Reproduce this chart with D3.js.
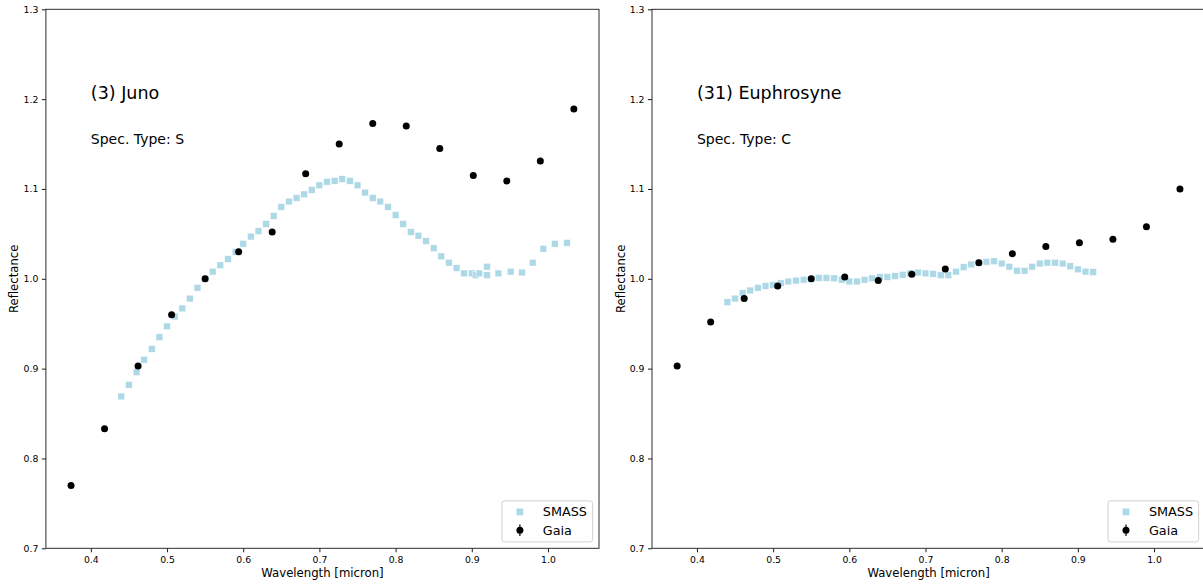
<!DOCTYPE html>
<html>
<head>
<meta charset="utf-8">
<script src="https://cdn.jsdelivr.net/npm/d3@7"></script>
<style>
  body { margin: 0; background: #fff; }
  svg { font-family: "DejaVu Sans", sans-serif; }
</style>
</head>
<body>
<div id="chart"></div>
<script>
// Gaia DR3 sampling wavelengths (micron)
var gaiaWave = [0.374, 0.418, 0.462, 0.506, 0.550, 0.594, 0.638, 0.682, 0.726, 0.770, 0.814, 0.858, 0.902, 0.946, 0.990, 1.034];
var junoGaia = [0.770, 0.833, 0.903, 0.960, 1.000, 1.030, 1.052, 1.117, 1.150, 1.173, 1.170, 1.145, 1.115, 1.109, 1.131, 1.189];
var euphGaia = [0.903, 0.952, 0.978, 0.992, 1.000, 1.002, 0.998, 1.005, 1.011, 1.018, 1.028, 1.036, 1.040, 1.044, 1.058, 1.100];

var junoSmassWave = [0.44, 0.45, 0.46, 0.47, 0.48, 0.49, 0.50, 0.51, 0.52, 0.53, 0.54, 0.55, 0.56, 0.57, 0.58, 0.59,
  0.60, 0.61, 0.62, 0.63, 0.64, 0.65, 0.66, 0.67, 0.68, 0.69, 0.70, 0.71, 0.72, 0.73, 0.74, 0.75, 0.76, 0.77, 0.78, 0.79,
  0.80, 0.81, 0.82, 0.83, 0.84, 0.85, 0.86, 0.87, 0.88, 0.89, 0.900, 0.905, 0.910, 0.920, 0.920, 0.935, 0.951, 0.966,
  0.980, 0.994, 1.009, 1.025];
var junoSmass = [0.869, 0.882, 0.896, 0.910, 0.922, 0.935, 0.947, 0.958, 0.967, 0.978, 0.990, 1.000, 1.008, 1.015, 1.022, 1.030,
  1.039, 1.047, 1.053, 1.061, 1.070, 1.080, 1.086, 1.090, 1.094, 1.099, 1.104, 1.108, 1.109, 1.111, 1.109, 1.104, 1.096, 1.090, 1.086, 1.080,
  1.071, 1.061, 1.052, 1.048, 1.042, 1.034, 1.025, 1.018, 1.012, 1.006, 1.006, 1.004, 1.006, 1.0135, 1.004, 1.006, 1.008, 1.007,
  1.018, 1.0335, 1.039, 1.040];

var euphSmassWave = [0.44, 0.45, 0.46, 0.47, 0.48, 0.49, 0.50, 0.51, 0.52, 0.53, 0.54, 0.55, 0.56, 0.57, 0.58, 0.59,
  0.60, 0.61, 0.62, 0.63, 0.64, 0.65, 0.66, 0.67, 0.68, 0.69, 0.70, 0.71, 0.72, 0.73, 0.74, 0.75, 0.76, 0.77, 0.78, 0.79,
  0.80, 0.81, 0.82, 0.83, 0.84, 0.85, 0.86, 0.87, 0.88, 0.89, 0.90, 0.91, 0.92];
var euphSmass = [0.974, 0.978, 0.984, 0.987, 0.990, 0.992, 0.993, 0.995, 0.997, 0.998, 0.999, 1.000, 1.001, 1.001, 1.0005, 0.999,
  0.997, 0.997, 0.999, 1.0005, 1.002, 1.002, 1.003, 1.0045, 1.006, 1.007, 1.006, 1.0055, 1.004, 1.004, 1.008, 1.013, 1.016, 1.018, 1.019, 1.0195,
  1.017, 1.0135, 1.009, 1.009, 1.0135, 1.017, 1.018, 1.018, 1.017, 1.014, 1.0105, 1.008, 1.0075];

var xTicks = [0.4, 0.5, 0.6, 0.7, 0.8, 0.9, 1.0];
var yTicks = [0.7, 0.8, 0.9, 1.0, 1.1, 1.2, 1.3];

var panels = [
  { name: "(3) Juno", type: "Spec. Type: S", smassX: junoSmassWave, smassY: junoSmass, gaiaY: junoGaia, left: 45.9 },
  { name: "(31) Euphrosyne", type: "Spec. Type: C", smassX: euphSmassWave, smassY: euphSmass, gaiaY: euphGaia, left: 652 }
];

var W = 1203, H = 585;
var pw = 553.1, plotTop = 9.3, ph = 539;

var svg = d3.select("#chart")
  .append("svg")
  .attr("width", W)
  .attr("height", H);

var pad = (d3.max(gaiaWave) - d3.min(gaiaWave)) * 0.05;
var x = d3.scaleLinear()
  .domain([d3.min(gaiaWave) - pad, d3.max(gaiaWave) + pad])
  .range([0, pw]);
var y = d3.scaleLinear().domain([0.7, 1.3]).range([ph, 0]);

panels.forEach(function (p) {
  var g = svg.append("g")
    .attr("transform", "translate(" + p.left + "," + plotTop + ")");

  // SMASS squares
  var sm = d3.zip(p.smassX, p.smassY);
  g.selectAll(".sq")
    .data(sm)
    .enter()
    .append("rect")
    .attr("x", function (d) { return x(d[0]) - 3.4 })
    .attr("y", function (d) { return y(d[1]) - 3.4 })
    .attr("width", 6.8)
    .attr("height", 6.8)
    .style("fill", "#add8e6")
    .style("stroke", "#fff")
    .style("stroke-width", 0.5);

  // Gaia points
  g.selectAll(".dot")
    .data(d3.zip(gaiaWave, p.gaiaY))
    .enter()
    .append("circle")
    .attr("cx", function (d) { return x(d[0]) })
    .attr("cy", function (d) { return y(d[1]) })
    .attr("r", 3.5)
    .style("fill", "#000");

  // axes
  var xa = g.append("g")
    .attr("transform", "translate(0," + ph + ")")
    .call(d3.axisBottom(x).tickValues(xTicks).tickFormat(d3.format(".1f")).tickSize(4).tickPadding(4.3).tickSizeOuter(0));
  var ya = g.append("g")
    .call(d3.axisLeft(y).tickValues(yTicks).tickFormat(d3.format(".1f")).tickSize(4).tickPadding(3.5).tickSizeOuter(0));
  [xa, ya].forEach(function (a) {
    a.select(".domain").remove();
    a.selectAll("text").style("font-size", "9.3px").style("fill", "#000").style("font-family", "DejaVu Sans");
    a.selectAll("line").style("stroke", "#000").style("stroke-width", 0.9);
  });

  // frame
  g.append("rect")
    .attr("width", pw)
    .attr("height", ph)
    .style("fill", "none")
    .style("stroke", "#222")
    .style("stroke-width", 0.95);

  // labels
  g.append("text")
    .attr("x", pw / 2)
    .attr("y", 577.5 - plotTop)
    .attr("text-anchor", "middle")
    .style("font-size", "11.7px")
    .text("Wavelength [micron]");
  g.append("text")
    .attr("transform", "translate(" + (-27.5) + "," + (ph / 2) + ") rotate(-90)")
    .attr("text-anchor", "middle")
    .style("font-size", "11.7px")
    .text("Reflectance");

  g.append("text")
    .attr("x", x(0.4))
    .attr("y", y(1.2))
    .style("font-size", "17.5px")
    .text(p.name);
  g.append("text")
    .attr("x", x(0.4))
    .attr("y", y(1.15))
    .style("font-size", "14px")
    .text(p.type);

  // legend
  var lw = 90.7, lh = 41;
  var lg = g.append("g")
    .attr("transform", "translate(" + (pw - 6.4 - lw) + "," + (ph - 6.4 - lh) + ")");
  lg.append("rect")
    .attr("width", lw)
    .attr("height", lh)
    .attr("rx", 2.5)
    .style("fill", "#fff")
    .style("fill-opacity", 0.8)
    .style("stroke", "#ccc")
    .style("stroke-width", 0.9);
  lg.append("rect")
    .attr("x", 18 - 3.4)
    .attr("y", 11 - 3.4)
    .attr("width", 6.8)
    .attr("height", 6.8)
    .style("fill", "#add8e6");
  lg.append("line")
    .attr("x1", 18).attr("x2", 18)
    .attr("y1", 23.5).attr("y2", 35)
    .style("stroke", "#000")
    .style("stroke-width", 1.2);
  lg.append("circle")
    .attr("cx", 18)
    .attr("cy", 29.3)
    .attr("r", 3.5)
    .style("fill", "#000");
  lg.append("text")
    .attr("x", 40.9)
    .attr("y", 15.5)
    .style("font-size", "12.8px")
    .text("SMASS");
  lg.append("text")
    .attr("x", 40.9)
    .attr("y", 33.8)
    .style("font-size", "12.8px")
    .text("Gaia");
});
</script>
</body>
</html>
